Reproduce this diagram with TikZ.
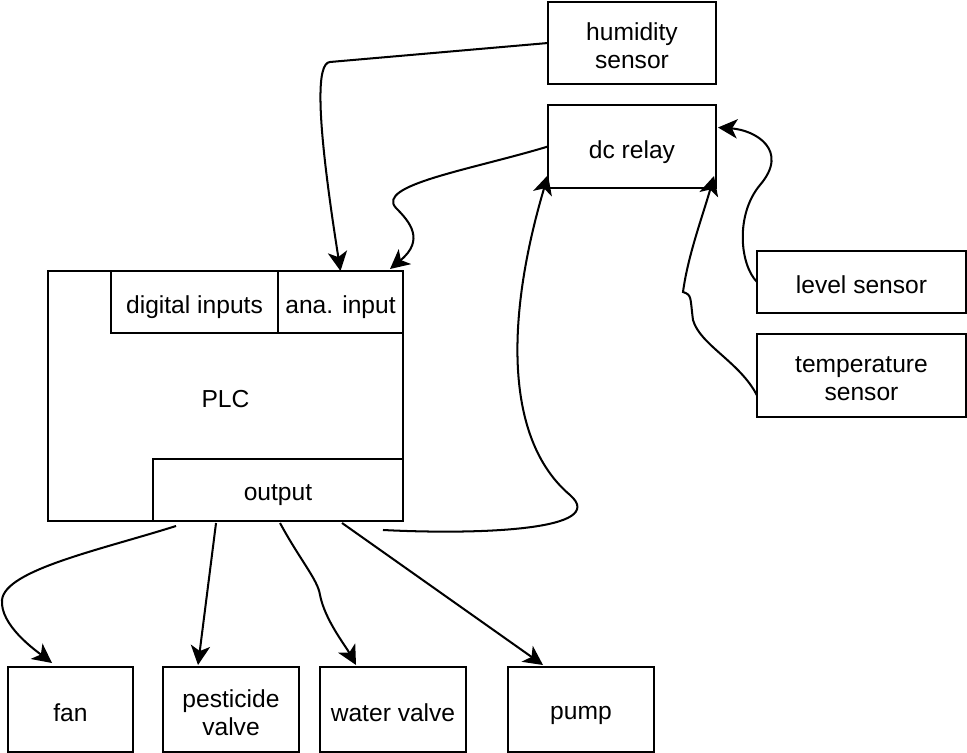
\documentclass[tikz,border=0pt]{standalone}
\usepackage{fontspec}
\setmainfont{Liberation Sans}
\usetikzlibrary{arrows.meta,calc}
\newcommand\dnl[1]{\raisebox{-1.7pt}[\height][\depth]{#1}}
\begin{document}
\begin{tikzpicture}[x=0.02cm,y=-0.02cm,
  box/.style={draw,line width=1.1pt,inner sep=0pt,outer sep=0pt,align=center,
    text depth=0pt,font=\fontsize{14}{16}\selectfont},
  conn/.style={line width=1.15pt,-{Stealth[length=11pt,width=11pt,inset=3pt]}}]
\useasboundingbox (0,0) rectangle (967,753);
% nodes
\node[box,minimum width=3.36cm,minimum height=1.64cm] (hum) at (632,43) {\dnl{humidity}\\\dnl{sensor}};
\node[box,minimum width=3.36cm,minimum height=1.66cm] (dc) at (632,146.5) {\dnl{dc relay}};
\node[box,minimum width=4.18cm,minimum height=1.24cm] (lvl) at (861.5,282) {\dnl{level sensor}};
\node[box,minimum width=4.18cm,minimum height=1.66cm] (temp) at (861.5,375.5) {\dnl{temperature}\\\dnl{sensor}};
\node[box,minimum width=7.1cm,minimum height=5cm] (plc) at (225.5,396) {\dnl{PLC}};
\node[box,minimum width=3.34cm,minimum height=1.24cm] (dig) at (194.5,302) {\dnl{digital inputs}};
\node[box,minimum width=2.5cm,minimum height=1.24cm] (ana) at (340.5,302) {\dnl{ana. input}};
\node[box,minimum width=5cm,minimum height=1.24cm] (out) at (278,490) {\dnl{output}};
\node[box,minimum width=2.5cm,minimum height=1.7cm] (fan) at (70.5,709.5) {\dnl{fan}};
\node[box,minimum width=2.72cm,minimum height=1.7cm] (pest) at (231,709.5) {\dnl{pesticide}\\\dnl{valve}};
\node[box,minimum width=2.92cm,minimum height=1.7cm] (wv) at (393,709.5) {\dnl{water valve}};
\node[box,minimum width=2.92cm,minimum height=1.7cm] (pump) at (581,709.5) {\dnl{pump}};
% free ends
\coordinate (o1) at ($(out.south west)+(23,5)$);
\coordinate (o2) at ($(out.south west)+(63,2)$);
\coordinate (o3) at ($(out.south west)+(127,2)$);
\coordinate (o4) at ($(out.south west)+(189,2)$);
\coordinate (o5) at ($(out.south east)+(-20,9)$);
\coordinate (anaR) at ($(ana.north east)+(-13,-2)$);
\coordinate (dcL) at ($(dc.south west)+(0,-13)$);
\coordinate (dcR1) at ($(dc.east)+(2,-19)$);
\coordinate (dcR2) at ($(dc.south east)+(-2,-12)$);
\coordinate (tS) at ($(temp.west)+(0,20)$);
\coordinate (fanT) at ($(fan.north west)+(44,-4)$);
\coordinate (pestT) at ($(pest.north west)+(35,-2)$);
\coordinate (wvT) at ($(wv.north west)+(36,-2)$);
\coordinate (pumpT) at ($(pump.north west)+(35,-2)$);
% connectors
\draw[conn] (hum.west) -- (330,62) .. controls (317,63) and (315,110) .. (ana.north);
\draw[conn] (dc.west) .. controls (470,170) and (375,185) .. (396,208)
  .. controls (410,222) and (425,240) .. (anaR);
\draw[conn] (o5) .. controls (480,535) and (610,530) .. (570,495)
  .. controls (505,440) and (505,320) .. (dcL);
\draw[conn] (lvl.west) .. controls (740,265) and (735,215) .. (760,185)
  .. controls (790,150) and (755,130) .. (dcR1);
\draw[conn] (tS) .. controls (740,362) and (700,345) .. (693,320)
  .. controls (690,297) and (692,295) .. (683,292)
  .. controls (688,255) and (703,215) .. (dcR2);
\draw[conn] (o1) .. controls (100,550) and (5,570) .. (2,600)
  .. controls (0,625) and (35,650) .. (fanT);
\draw[conn] (o2) -- (pestT);
\draw[conn] (o3) .. controls (300,560) and (318,580) .. (320,595)
  .. controls (325,620) and (345,645) .. (wvT);
\draw[conn] (o4) -- (pumpT);
\end{tikzpicture}
\end{document}
